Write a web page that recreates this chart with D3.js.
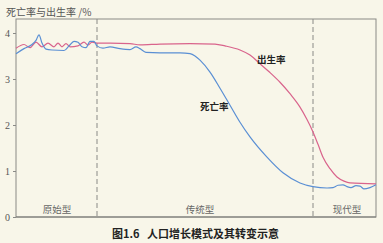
<!DOCTYPE html>
<html>
<head>
<meta charset="utf-8">
<script src="https://cdn.jsdelivr.net/npm/d3@7"></script>
<style>
  html, body { margin: 0; padding: 0; background: #f8f6e9; }
  svg { display: block; font-family: "Noto Sans CJK SC", sans-serif; }
</style>
</head>
<body>
<div id="chart"></div>
<script>
// time index (abstract) and rate in %
const deathT = [0, 8, 16, 20, 23, 26, 30, 36, 48, 53, 58, 62, 66, 70, 74, 78, 81, 87, 94, 104, 114, 120, 124, 130, 144, 164, 174, 179, 184, 194, 204, 214, 224, 234, 251, 267, 284, 297, 311, 317, 322, 327, 331, 335, 340, 344, 348, 354, 360]
const deathV = [3.55, 3.66, 3.75, 3.84, 3.96, 3.78, 3.65, 3.63, 3.62, 3.72, 3.82, 3.80, 3.70, 3.68, 3.82, 3.82, 3.72, 3.67, 3.70, 3.66, 3.64, 3.70, 3.66, 3.58, 3.57, 3.57, 3.55, 3.50, 3.41, 3.15, 2.80, 2.43, 2.06, 1.74, 1.30, 0.96, 0.74, 0.66, 0.63, 0.64, 0.69, 0.70, 0.66, 0.64, 0.68, 0.67, 0.61, 0.64, 0.70]

const birthT = [0, 8, 14, 20, 26, 32, 38, 42, 46, 50, 54, 62, 68, 72, 76, 81, 94, 114, 124, 144, 174, 199, 209, 224, 234, 244, 254, 264, 274, 284, 291, 297, 302, 307, 314, 321, 328, 334, 360]
const birthV = [3.67, 3.75, 3.68, 3.80, 3.70, 3.78, 3.70, 3.78, 3.70, 3.77, 3.70, 3.72, 3.80, 3.74, 3.80, 3.78, 3.78, 3.77, 3.74, 3.76, 3.77, 3.76, 3.72, 3.63, 3.52, 3.33, 3.14, 2.93, 2.68, 2.39, 2.12, 1.85, 1.58, 1.30, 1.05, 0.87, 0.78, 0.74, 0.72]

const yTicks = [0, 1, 2, 3, 4]
const dividers = [81, 297]
const stages = ["原始型", "传统型", "现代型"]
const stageT = [41, 184, 331]

const W = 383, H = 243
const margin = {top: 19, right: 7, bottom: 26, left: 16}

const svg = d3.select("#chart").append("svg")
  .attr("width", W)
  .attr("height", H)

const x = d3.scaleLinear().domain([0, 360]).range([margin.left, W - margin.right])
const y = d3.scaleLinear().domain([0, 4]).range([H - margin.bottom, H - margin.bottom - 184])

// frame
svg.append("rect")
  .attr("x", margin.left)
  .attr("y", margin.top)
  .attr("width", x(360) - x(0))
  .attr("height", y(0) - margin.top)
  .attr("fill", "none")
  .attr("stroke", "#8a8a86")
  .attr("stroke-width", 1)

// y axis
const yAxis = svg.append("g")
  .attr("transform", "translate(" + margin.left + ",0)")
  .call(d3.axisLeft(y).tickValues(yTicks).tickSize(3).tickPadding(3).tickFormat(d3.format("d")))
yAxis.select(".domain").remove()
yAxis.selectAll("line").attr("stroke", "#8a8a86")
yAxis.selectAll("text")
  .attr("fill", "#555")
  .style("font-family", "'Liberation Serif', serif")
  .style("font-size", "10px")

// x axis line (bottom)
svg.append("line")
  .attr("x1", x(0)).attr("x2", x(360))
  .attr("y1", y(0)).attr("y2", y(0))
  .attr("stroke", "#7a7a76")
  .attr("stroke-width", 1.2)

// dividers
svg.selectAll("line.div")
  .data(dividers)
  .enter().append("line")
  .attr("class", "div")
  .attr("x1", d => x(d)).attr("x2", d => x(d))
  .attr("y1", margin.top).attr("y2", y(0))
  .attr("stroke", "#8a8a86")
  .attr("stroke-width", 1)
  .attr("stroke-dasharray", "5,3")

const line = d3.line()
  .x(d => x(d[0]))
  .y(d => y(d[1]))
  .curve(d3.curveMonotoneX)

svg.append("path")
  .datum(birthT.map((t, i) => [t, birthV[i]]))
  .attr("d", line)
  .attr("fill", "none")
  .attr("stroke", "#d9648c")
  .attr("stroke-width", 1.2)

svg.append("path")
  .datum(deathT.map((t, i) => [t, deathV[i]]))
  .attr("d", line)
  .attr("fill", "none")
  .attr("stroke", "#5a8fd4")
  .attr("stroke-width", 1.2)

// series labels
svg.append("text")
  .attr("x", x(241)).attr("y", y(3.35))
  .attr("font-size", 9.5).attr("font-weight", "bold").attr("fill", "#222")
  .text("出生率")
svg.append("text")
  .attr("x", x(184)).attr("y", y(2.32))
  .attr("font-size", 9.5).attr("font-weight", "bold").attr("fill", "#222")
  .text("死亡率")

// stage labels
svg.selectAll("text.stage")
  .data(stages)
  .enter().append("text")
  .attr("class", "stage")
  .attr("x", (d, i) => x(stageT[i]))
  .attr("y", y(0) - 4)
  .attr("text-anchor", "middle")
  .attr("font-size", 9.5)
  .attr("fill", "#666")
  .text(d => d)

// title
svg.append("text")
  .attr("x", 6).attr("y", 16)
  .attr("font-size", 10)
  .attr("fill", "#555")
  .text("死亡率与出生率 /%")

// caption
svg.append("text")
  .attr("x", 112).attr("y", 238)
  .attr("font-size", 11)
  .attr("font-weight", "bold")
  .attr("fill", "#222")
  .attr("xml:space", "preserve")
  .text("图1.6   人口增长模式及其转变示意")
</script>
</body>
</html>
